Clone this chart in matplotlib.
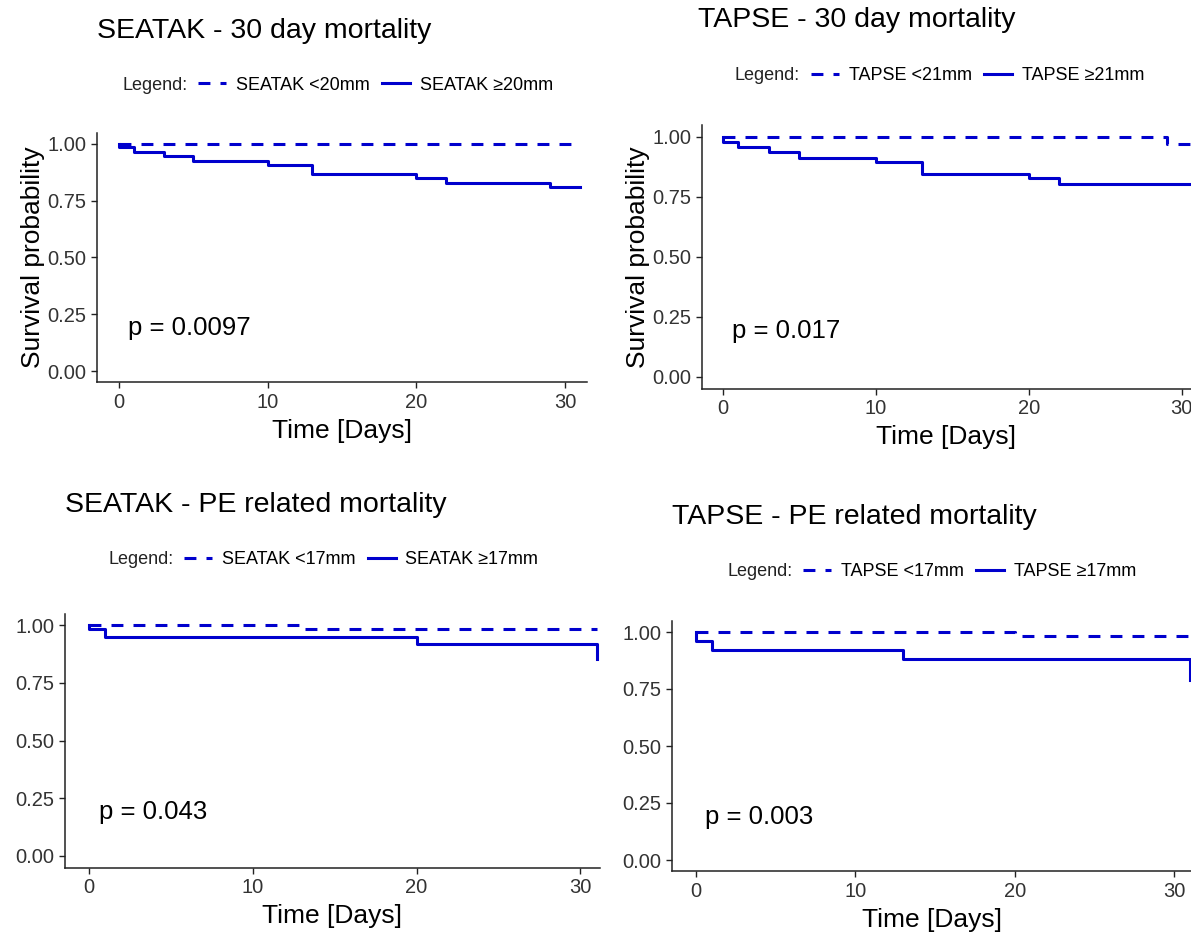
import numpy as np
import matplotlib
matplotlib.use("Agg")
import matplotlib.pyplot as plt
from matplotlib.lines import Line2D

plt.rcParams['font.family'] = ['Liberation Sans', 'DejaVu Sans']

# ---- data ----
# SEATAK - 30 day mortality
seatak30_lo_t = [0, 31]
seatak30_lo_s = [1.0, 1.0]
seatak30_hi_t = [0, 0, 1, 3, 5, 10, 13, 20, 22, 29, 31]
seatak30_hi_s = [1.0, 0.987, 0.966, 0.948, 0.927, 0.906, 0.869, 0.851, 0.827, 0.809, 0.809]

# TAPSE - 30 day mortality
tapse30_lo_t = [0, 29, 31]
tapse30_lo_s = [1.0, 0.971, 0.971]
tapse30_hi_t = [0, 0, 1, 3, 5, 10, 13, 20, 22, 31]
tapse30_hi_s = [1.0, 0.981, 0.960, 0.936, 0.912, 0.894, 0.847, 0.828, 0.804, 0.804]

# SEATAK - PE related mortality
seatakpe_lo_t = [0, 13, 31]
seatakpe_lo_s = [1.0, 0.982, 0.982]
seatakpe_hi_t = [0, 0, 1, 20, 31]
seatakpe_hi_s = [1.0, 0.985, 0.947, 0.917, 0.852]

# TAPSE - PE related mortality
tapsepe_lo_t = [0, 20, 31]
tapsepe_lo_s = [1.0, 0.984, 0.984]
tapsepe_hi_t = [0, 0, 1, 13, 31]
tapsepe_hi_s = [1.0, 0.962, 0.923, 0.880, 0.790]

titles = ["SEATAK - 30 day mortality", "TAPSE - 30 day mortality",
          "SEATAK - PE related mortality", "TAPSE - PE related mortality"]
labels_lo = ["SEATAK <20mm", "TAPSE <21mm", "SEATAK <17mm", "TAPSE <17mm"]
labels_hi = ["SEATAK \u226520mm", "TAPSE \u226521mm", "SEATAK \u226517mm", "TAPSE \u226517mm"]
pvals = ["p = 0.0097", "p = 0.017", "p = 0.043", "p = 0.003"]
yticks = [0, 0.25, 0.5, 0.75, 1.0]
xticks = [0, 10, 20, 30]

W, H = 1191, 934
BLUE = '#0000CD'
DASH = (0, (3.9, 3.3))
LW = 2.2

fig = plt.figure(figsize=(W / 100, H / 100), dpi=100)


def px_axes(left, right, top, bottom):
    return fig.add_axes([left / W, 1 - bottom / H, (right - left) / W, (bottom - top) / H])


# axes boxes in pixels: left, right, top, bottom
boxes = [(97, 587, 132.6, 382.4),
         (702, 1191, 125, 389),
         (65, 600, 613.5, 867.5),
         (672, 1191, 620.6, 871.4)]
xlims = [(-1.48, 31.47), (-1.37, 30.6), (-1.47, 31.2), (-1.5, 31.05)]
title_pos = [(97, 31), (698, 20), (65, 505), (672, 517)]
legend_pos = [(122, 85), (735, 76), (108, 560), (727, 572)]
curves = [(seatak30_lo_t, seatak30_lo_s, seatak30_hi_t, seatak30_hi_s),
          (tapse30_lo_t, tapse30_lo_s, tapse30_hi_t, tapse30_hi_s),
          (seatakpe_lo_t, seatakpe_lo_s, seatakpe_hi_t, seatakpe_hi_s),
          (tapsepe_lo_t, tapsepe_lo_s, tapsepe_hi_t, tapsepe_hi_s)]
show_ylabel = [True, True, False, False]

for i in range(4):
    ax = px_axes(*boxes[i])
    lo_t, lo_s, hi_t, hi_s = curves[i]
    ax.step(lo_t, lo_s, where='post', color=BLUE, lw=LW, linestyle=DASH)
    ax.step(hi_t, hi_s, where='post', color=BLUE, lw=LW)
    ax.set_xlim(*xlims[i])
    ax.set_ylim(-0.05, 1.05)
    ax.set_xticks(xticks)
    ax.set_yticks(yticks)
    ax.set_yticklabels(["%.2f" % v for v in yticks])
    for s in ['top', 'right']:
        ax.spines[s].set_visible(False)
    for s in ['left', 'bottom']:
        ax.spines[s].set_linewidth(1.1)
        ax.spines[s].set_color('#222222')
    ax.tick_params(labelsize=14.5, labelcolor='#333333', length=4.5, width=1.0,
                   color='#222222', pad=3)
    ax.set_xlabel("Time [Days]", fontsize=19, labelpad=5)
    if show_ylabel[i]:
        ax.set_ylabel("Survival probability", fontsize=19, labelpad=2)
    ax.text(0.6, 0.19, pvals[i], fontsize=18.5, va='center', ha='left')
    ax.patch.set_alpha(0)

    tx, ty = title_pos[i]
    fig.text(tx / W, 1 - ty / H, titles[i], fontsize=20.5, ha='left', va='center')

    lx, ly = legend_pos[i]
    fig.text(lx / W, 1 - ly / H, "Legend:", fontsize=13, ha='left', va='center',
             color='#222222')
    handles = [Line2D([], [], color=BLUE, lw=LW, linestyle=DASH),
               Line2D([], [], color=BLUE, lw=LW)]
    fig.legend(handles, [labels_lo[i], labels_hi[i]], loc='center left',
               bbox_to_anchor=((lx + 76) / W, 1 - ly / H), ncol=2, frameon=False,
               fontsize=13, handlelength=1.55, handletextpad=0.55, columnspacing=0.67,
               borderaxespad=0, borderpad=0)

fig.savefig("out.png", dpi=100, facecolor='white')
